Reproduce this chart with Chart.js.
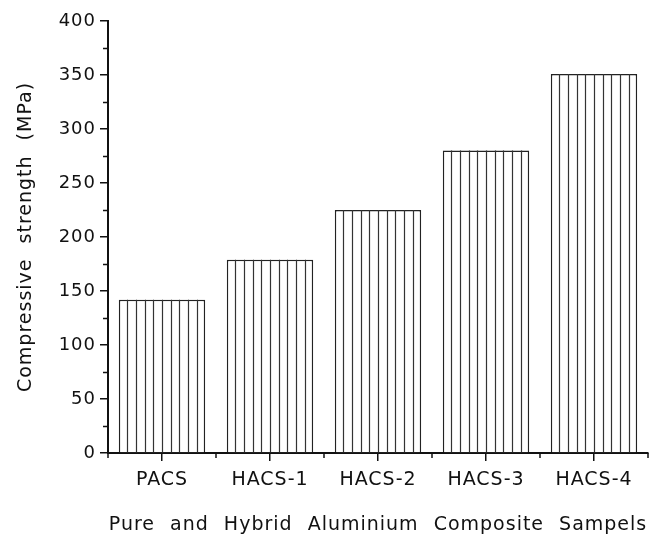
<!DOCTYPE html>
<html>
<head>
<meta charset="utf-8">
<script src="https://cdn.jsdelivr.net/npm/chart.js@4"></script>
<style>
  html, body { margin: 0; padding: 0; background: #fff; }
  #wrap { width: 659px; height: 540px; }
</style>
</head>
<body>
<div id="wrap"><canvas id="strengthChart" width="659" height="540"></canvas></div>
<script>
const samples = ['PACS', 'HACS-1', 'HACS-2', 'HACS-3', 'HACS-4'];
const strength = [142, 179, 225, 280, 351];
const yTicks = [0, 50, 100, 150, 200, 250, 300, 350, 400];

const FONT = '"DejaVu Sans", sans-serif';

// vertical line hatching inside each bar, plus the short minor ticks
const hatchAndMinor = {
  id: 'hatchAndMinor',
  beforeDraw(chart) {
    chart.ctx.letterSpacing = '1px';
    chart.ctx.wordSpacing = '8px';
  },
  afterDatasetsDraw(chart) {
    const ctx = chart.ctx;
    const meta = chart.getDatasetMeta(0);
    ctx.save();
    ctx.strokeStyle = '#333';
    ctx.lineWidth = 1.2;
    meta.data.forEach(bar => {
      const p = bar.getProps(['x', 'y', 'base', 'width'], true);
      const left = p.x - p.width / 2;
      ctx.beginPath();
      for (let i = 1; i < 10; i++) {
        const x = Math.round(left + i * p.width / 10) + 0.5;
        ctx.moveTo(x, p.y);
        ctx.lineTo(x, p.base);
      }
      ctx.stroke();
    });
    ctx.restore();
  },
  afterDraw(chart) {
    const ctx = chart.ctx;
    const xs = chart.scales.x, ys = chart.scales.y;
    ctx.save();
    ctx.strokeStyle = '#111';
    ctx.lineWidth = 1.5;
    ctx.beginPath();
    // minor y ticks halfway between labelled ones
    for (let i = 0; i < yTicks.length - 1; i++) {
      const v = (yTicks[i] + yTicks[i + 1]) / 2;
      const y = Math.round(ys.getPixelForValue(v)) + 0.5;
      ctx.moveTo(xs.left, y);
      ctx.lineTo(xs.left - 5, y);
    }
    // minor x ticks at category boundaries
    for (let i = 0; i <= samples.length; i++) {
      const x = Math.round(xs.getPixelForValue(i - 0.5));
      ctx.moveTo(x, xs.top);
      ctx.lineTo(x, xs.top + 5);
    }
    ctx.stroke();
    ctx.restore();
  }
};

new Chart(document.getElementById('strengthChart'), {
  type: 'bar',
  data: {
    labels: samples,
    datasets: [{
      data: strength,
      backgroundColor: '#fff',
      borderColor: '#222',
      borderWidth: 1.5,
      barPercentage: 0.8,
      categoryPercentage: 1
    }]
  },
  options: {
    responsive: false,
    animation: false,
    layout: { padding: { top: 21, right: 11, left: 11, bottom: 0 } },
    plugins: {
      legend: { display: false },
      tooltip: { enabled: false }
    },
    scales: {
      x: {
        offset: true,
        grid: { offset: false, drawOnChartArea: false, drawTicks: true, tickLength: 8, color: '#111', lineWidth: 1.5 },
        border: { display: true, color: '#111', width: 2 },
        ticks: { color: '#111', font: { family: FONT, size: 19 }, padding: 8 },
        title: {
          display: true,
          text: 'Pure and Hybrid Aluminium Composite Sampels',
          color: '#111',
          font: { family: FONT, size: 19 },
          padding: { top: 14, bottom: 4 }
        },
        afterFit(scale) { scale.height = 87; }
      },
      y: {
        min: 0,
        max: 400,
        afterBuildTicks(scale) { scale.ticks = yTicks.map(v => ({ value: v })); },
        grid: { drawOnChartArea: false, drawTicks: true, tickLength: 8, color: '#111', lineWidth: 1.5 },
        border: { display: true, color: '#111', width: 2 },
        ticks: { color: '#111', font: { family: FONT, size: 18 }, padding: 4 },
        title: {
          display: true,
          text: 'Compressive strength (MPa)',
          color: '#111',
          font: { family: FONT, size: 19 },
          padding: { top: 4, bottom: 8 }
        },
        afterFit(scale) { scale.width = 97; }
      }
    }
  },
  plugins: [hatchAndMinor]
});
</script>
</body>
</html>
